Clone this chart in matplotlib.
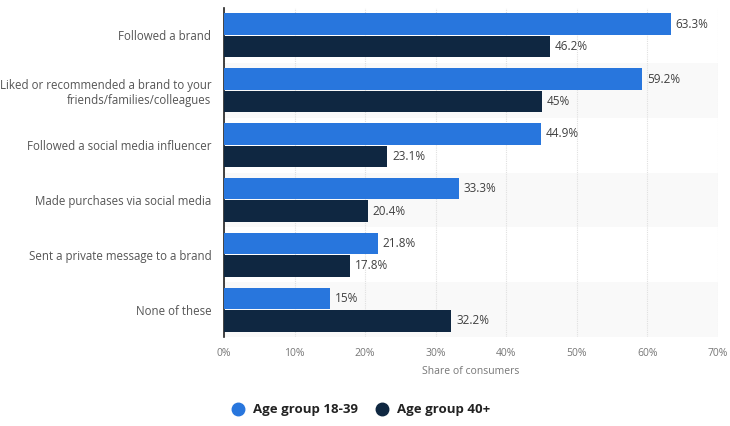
import matplotlib
matplotlib.use("Agg")
import matplotlib.pyplot as plt
import numpy as np

categories = ["Followed a brand",
              "Liked or recommended a brand to your\nfriends/families/colleagues",
              "Followed a social media influencer",
              "Made purchases via social media",
              "Sent a private message to a brand",
              "None of these"]
young = [63.3, 59.2, 44.9, 33.3, 21.8, 15]
old = [46.2, 45, 23.1, 20.4, 17.8, 32.2]
young_labels = ["63.3%", "59.2%", "44.9%", "33.3%", "21.8%", "15%"]
old_labels = ["46.2%", "45%", "23.1%", "20.4%", "17.8%", "32.2%"]
ticks = [0, 10, 20, 30, 40, 50, 60, 70]
tick_labels = ["0%", "10%", "20%", "30%", "40%", "50%", "60%", "70%"]
series_names = ["Age group 18-39", "Age group 40+"]

plt.rcParams['font.family'] = ['Open Sans', 'DejaVu Sans']
plt.rcParams['font.stretch'] = 'normal'

c1 = "#2876dd"
c2 = "#0f2741"

fig = plt.figure(figsize=(7.3, 4.26), dpi=100)
ax = fig.add_axes([224/730, 1-337/426, (718-224)/730, (337-8)/426])

n = len(categories)
y = np.arange(n)
h = 0.39
for i in range(n):
    if i % 2 == 1:
        ax.axhspan(i-0.5, i+0.5, color="#f9f9f9", zorder=0, lw=0)
ax.barh(y - h/2 - 0.01, young, height=h, color=c1, zorder=3, label=series_names[0])
ax.barh(y + h/2 + 0.01, old, height=h, color=c2, zorder=3, label=series_names[1])
for i in range(n):
    ax.text(young[i] + 0.7, y[i] - h/2 - 0.01, young_labels[i], va="center", ha="left",
            fontsize=8.5, color="#404040")
    ax.text(old[i] + 0.7, y[i] + h/2 + 0.01, old_labels[i], va="center", ha="left",
            fontsize=8.5, color="#404040")

ax.set_ylim(n-0.5, -0.5)
ax.set_xlim(0, 70)
ax.set_xticks(ticks)
ax.set_xticklabels(tick_labels, fontsize=7.5, color="#777777")
ax.set_yticks(y)
ax.set_yticklabels(categories, fontsize=8.3, color="#555555")
ax.tick_params(axis="both", length=0)
ax.tick_params(axis="y", pad=9)
ax.tick_params(axis="x", pad=8)
ax.xaxis.grid(True, color="#e0e0e0", lw=0.8, ls=(0, (1, 1)), zorder=1)
ax.set_axisbelow(True)
for s in ["top", "right", "bottom"]:
    ax.spines[s].set_visible(False)
ax.spines["left"].set_color("#222222")
ax.spines["left"].set_linewidth(1.2)
ax.set_xlabel("Share of consumers", fontsize=7.5, color="#777777", labelpad=5)

handles = [plt.Line2D([], [], marker="o", ls="", color=c1, markersize=9),
           plt.Line2D([], [], marker="o", ls="", color=c2, markersize=9)]
fig.legend(handles, series_names, loc="center left", bbox_to_anchor=(213/730, 1-410/426),
           ncol=2, frameon=False, prop={"size": 9.5, "weight": "bold", "stretch": "normal"},
           handletextpad=0.15, columnspacing=0.8, labelcolor="#222222")

fig.savefig("out.png", dpi=100)
